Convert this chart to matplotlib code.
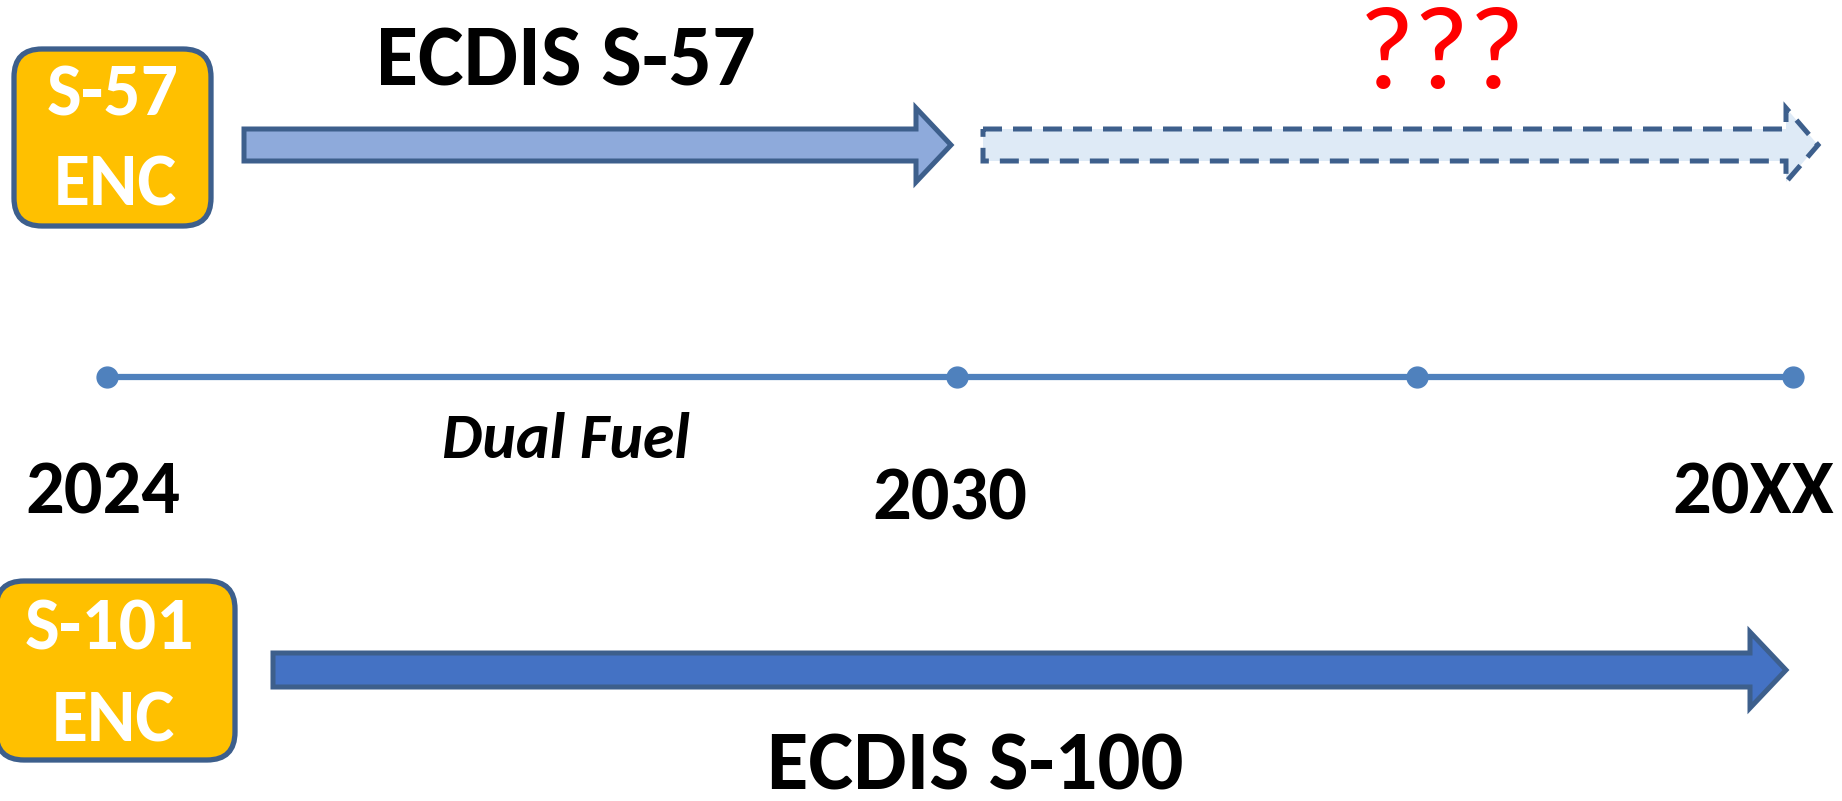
import matplotlib.pyplot as plt
from matplotlib.patches import Polygon, FancyBboxPatch

plt.rcParams['font.family'] = ['Carlito', 'Open Sans Condensed', 'DejaVu Sans']

# timeline data
years = ['2024', '2030', '', '20XX']
year_x = [107, 957, 1417, 1793]
label_x = [103, 950, 1417, 1753]
label_y = [513, 520, 513, 513]
note_text = 'Dual Fuel'

# standards
enc_boxes = ['S-57\nENC', 'S-101\nENC']
ecdis_labels = ['ECDIS S-57', 'ECDIS S-100']
unknown = '???'

edge = '#3d5f8c'
line_blue = '#4f81bd'


def arrow(ax, x0, x1, yc, half, head_half, head_len, fc, ls='-'):
    pts = [(x0, yc - half), (x1 - head_len, yc - half), (x1 - head_len, yc - head_half),
           (x1, yc), (x1 - head_len, yc + head_half), (x1 - head_len, yc + half),
           (x0, yc + half)]
    ax.add_patch(Polygon(pts, closed=True, facecolor=fc, edgecolor=edge,
                         linewidth=3.6, linestyle=ls, joinstyle='miter'))


fig = plt.figure(figsize=(18.42, 8.01), dpi=100)
ax = fig.add_axes([0, 0, 1, 1])
ax.set_xlim(0, 1842)
ax.set_ylim(801, 0)
ax.axis('off')

# arrows
arrow(ax, 244, 951, 145, 16, 37, 35, '#8eaadb')
arrow(ax, 983, 1818, 145, 16, 37, 32, '#deeaf6', ls=(0, (3.8, 2.2)))
arrow(ax, 273, 1786, 670, 17, 38, 36, '#4472c4')

# ENC boxes
ax.add_patch(FancyBboxPatch((14, 49), 197, 177, boxstyle='round,pad=0,rounding_size=28',
                            facecolor='#ffc000', edgecolor=edge, linewidth=3.8))
ax.add_patch(FancyBboxPatch((-4, 581), 239, 179, boxstyle='round,pad=0,rounding_size=28',
                            facecolor='#ffc000', edgecolor=edge, linewidth=3.8))
top, bottom = [t.split('\n') for t in enc_boxes]
ax.text(113, 116, top[0], color='white', fontsize=53, fontweight='bold', ha='center', va='baseline')
ax.text(115, 206, top[1], color='white', fontsize=53, fontweight='bold', ha='center', va='baseline')
ax.text(109, 650, bottom[0], color='white', fontsize=53, fontweight='bold', ha='center', va='baseline')
ax.text(113, 742, bottom[1], color='white', fontsize=53, fontweight='bold', ha='center', va='baseline')

# ECDIS labels
ax.text(566, 86, ecdis_labels[0], fontsize=62, fontweight='bold', ha='center', va='baseline')
ax.text(975, 790, ecdis_labels[1], fontsize=61, fontweight='bold', ha='center', va='baseline')
ax.text(1442, 88, unknown, color='#ff0000', fontsize=86, ha='center', va='baseline')

# timeline
ax.plot([year_x[0], year_x[-1]], [377, 377], color=line_blue, linewidth=4.5, zorder=2)
ax.plot(year_x, [377] * len(year_x), 'o', color=line_blue, markersize=15, zorder=3)
for lbl, x, y in zip(years, label_x, label_y):
    if lbl:
        ax.text(x, y, lbl, fontsize=55, fontweight='bold', ha='center', va='baseline')
ax.text(566, 458, note_text, fontsize=46, fontweight='bold', fontstyle='italic',
        ha='center', va='baseline')

fig.savefig('out.png', dpi=100)
